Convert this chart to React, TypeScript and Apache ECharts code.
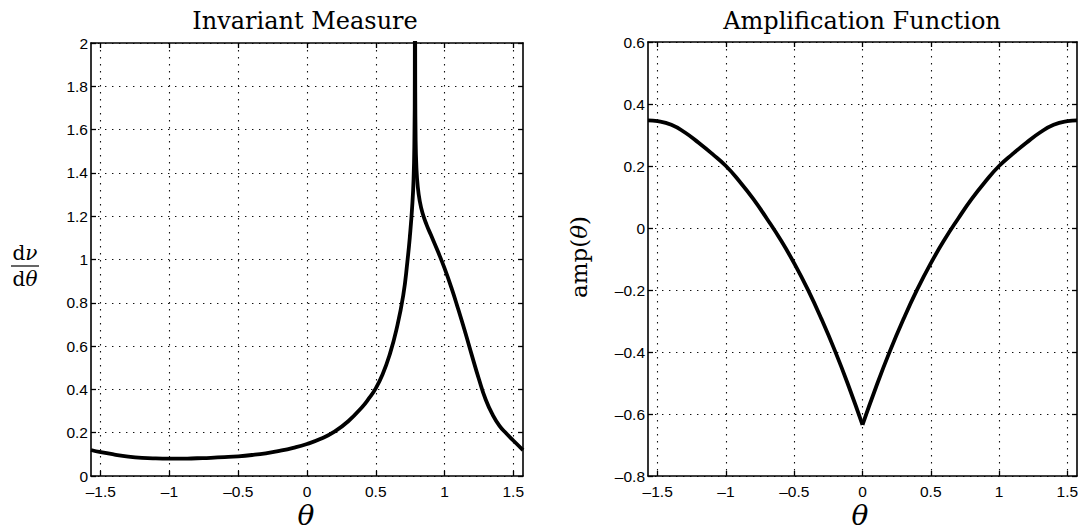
import React, { useEffect, useRef } from "react";
import * as echarts from "echarts";

// ---- data ----
const thetaMin = -1.5708;
const thetaMax = 1.5708;
const xTicks = [-1.5, -1, -0.5, 0, 0.5, 1, 1.5];

// Invariant measure, branch left of the singularity at pi/4
const measureThetaA = [-1.5708, -1.5, -1.4, -1.3, -1.2, -1.1, -1.0, -0.9, -0.8, -0.7, -0.6, -0.5, -0.4, -0.3, -0.2, -0.1, 0, 0.1, 0.2, 0.3, 0.4, 0.45, 0.5, 0.55, 0.6, 0.65, 0.7, 0.73, 0.75, 0.765, 0.775, 0.781, 0.784, 0.7854];
const measureA = [0.12, 0.11, 0.099, 0.09, 0.084, 0.081, 0.08, 0.08, 0.082, 0.084, 0.087, 0.091, 0.097, 0.105, 0.116, 0.13, 0.148, 0.172, 0.205, 0.253, 0.318, 0.358, 0.405, 0.47, 0.558, 0.675, 0.835, 0.99, 1.12, 1.245, 1.37, 1.55, 1.85, 2.6];
// branch right of the singularity
const measureThetaB = [0.7854, 0.787, 0.79, 0.796, 0.805, 0.82, 0.84, 0.87, 0.9, 0.95, 1.0, 1.05, 1.1, 1.15, 1.2, 1.25, 1.3, 1.35, 1.4, 1.45, 1.5, 1.5708];
const measureB = [2.6, 1.85, 1.55, 1.42, 1.34, 1.27, 1.215, 1.16, 1.115, 1.04, 0.96, 0.87, 0.77, 0.665, 0.555, 0.448, 0.352, 0.283, 0.232, 0.196, 0.164, 0.12];

// Amplification function
const ampThetaA = [-1.5708, -1.5, -1.4, -1.3, -1.2, -1.1, -1.0, -0.9, -0.8, -0.7, -0.6, -0.5, -0.4, -0.3, -0.2, -0.1, 0];
const ampA = [0.347, 0.3445, 0.333, 0.308, 0.275, 0.239, 0.2, 0.15, 0.094, 0.03, -0.038, -0.114, -0.199, -0.294, -0.398, -0.512, -0.635];
const ampThetaB = [0, 0.1, 0.2, 0.3, 0.4, 0.5, 0.6, 0.7, 0.8, 0.9, 1.0, 1.1, 1.2, 1.3, 1.4, 1.5, 1.5708];
const ampB = [-0.635, -0.512, -0.398, -0.294, -0.199, -0.114, -0.038, 0.03, 0.094, 0.15, 0.2, 0.239, 0.275, 0.308, 0.333, 0.3445, 0.347];

const zip = (xs: number[], ys: number[]) => xs.map((x, i) => [x, ys[i]]);
const fmt = (v: number) => String(+v.toFixed(2)).replace("-", "\u2013");

const SANS = "Liberation Sans, Arial, sans-serif";
const SERIF = "DejaVu Serif, serif";

const frameLine = { show: true, onZero: false, lineStyle: { color: "#000", width: 1.6 } };
const tickStyle = { color: "#000", width: 1.3 };
const gridDots = { show: true, lineStyle: { color: "#111", width: 1.1, type: [1.4, 5.6] as any } };

function xAxes(gridIndex: number) {
  const base = { type: "value", gridIndex, min: thetaMin, max: thetaMax, axisLine: frameLine };
  return [
    {
      ...base,
      position: "bottom",
      axisTick: { show: true, inside: true, length: 5, customValues: xTicks, lineStyle: tickStyle },
      axisLabel: { show: true, customValues: xTicks, formatter: fmt, margin: 7, color: "#000", fontSize: 15.5, fontFamily: SANS },
      splitLine: gridDots,
    },
    {
      ...base,
      position: "top",
      axisTick: { show: true, inside: true, length: 5, customValues: xTicks, lineStyle: tickStyle },
      axisLabel: { show: false },
      splitLine: { show: false },
    },
  ];
}

function yAxes(gridIndex: number, min: number, max: number) {
  const base = { type: "value", gridIndex, min, max, interval: 0.2, axisLine: frameLine };
  return [
    {
      ...base,
      position: "left",
      axisTick: { show: true, inside: true, length: 5, lineStyle: tickStyle },
      axisLabel: { show: true, formatter: fmt, margin: 3, color: "#000", fontSize: 15.5, fontFamily: SANS },
      splitLine: gridDots,
    },
    {
      ...base,
      position: "right",
      axisTick: { show: true, inside: true, length: 5, lineStyle: tickStyle },
      axisLabel: { show: false },
      splitLine: { show: false },
    },
  ];
}

const lineSeries = (data: number[][], xi: number, yi: number) => ({
  type: "line",
  data,
  xAxisIndex: xi,
  yAxisIndex: yi,
  showSymbol: false,
  symbol: "none",
  smooth: 0.5,
  clip: true,
  lineStyle: { color: "#000", width: 3.8 },
  silent: true,
});

export default function App() {
  const ref = useRef<HTMLDivElement>(null);
  useEffect(() => {
    if (!ref.current) return;
    const chart = echarts.init(ref.current, undefined, { renderer: "svg" });
    chart.setOption({
      animation: false,
      backgroundColor: "#fff",
      grid: [
        { left: 91, top: 43, width: 432, height: 433 },
        { left: 648, top: 42, width: 429, height: 434 },
      ],
      xAxis: [...xAxes(0), ...xAxes(1)],
      yAxis: [...yAxes(0, 0, 2), ...yAxes(1, -0.8, 0.6)],
      series: [
        lineSeries(zip(measureThetaA, measureA), 0, 0),
        lineSeries(zip(measureThetaB, measureB), 0, 0),
        lineSeries(zip(ampThetaA, ampA), 2, 2),
        lineSeries(zip(ampThetaB, ampB), 2, 2),
      ],
      graphic: [
        { type: "text", x: 305, y: 21, style: { text: "Invariant Measure", font: `24px ${SERIF}`, fill: "#000", textAlign: "center", textVerticalAlign: "middle" } },
        { type: "text", x: 862, y: 21, style: { text: "Amplification Function", font: `24px ${SERIF}`, fill: "#000", textAlign: "center", textVerticalAlign: "middle" } },
        { type: "text", x: 306, y: 515, style: { text: "\u03b8", font: `italic 28px ${SERIF}`, fill: "#000", textAlign: "center", textVerticalAlign: "middle" } },
        { type: "text", x: 860, y: 515, style: { text: "\u03b8", font: `italic 28px ${SERIF}`, fill: "#000", textAlign: "center", textVerticalAlign: "middle" } },
        {
          type: "text", x: 25, y: 253,
          style: {
            text: "{u|d}{i|\u03bd}", textAlign: "center", textVerticalAlign: "middle", fill: "#000",
            rich: { u: { font: `20px ${SERIF}`, fill: "#000" }, i: { font: `italic 20px ${SERIF}`, fill: "#000" } },
          },
        },
        { type: "line", shape: { x1: 11, y1: 266, x2: 39, y2: 266 }, style: { stroke: "#000", lineWidth: 1.2 } },
        {
          type: "text", x: 25, y: 279,
          style: {
            text: "{u|d}{i|\u03b8}", textAlign: "center", textVerticalAlign: "middle", fill: "#000",
            rich: { u: { font: `20px ${SERIF}`, fill: "#000" }, i: { font: `italic 20px ${SERIF}`, fill: "#000" } },
          },
        },
        {
          type: "text", x: 579, y: 257, rotation: Math.PI / 2,
          style: {
            text: "{u|amp(}{i|\u03b8}{u|)}", textAlign: "center", textVerticalAlign: "middle", fill: "#000",
            rich: { u: { font: `23px ${SERIF}`, fill: "#000" }, i: { font: `italic 23px ${SERIF}`, fill: "#000" } },
          },
        },
      ],
    });
    return () => chart.dispose();
  }, []);
  return <div ref={ref} style={{ position: "absolute", left: 0, top: 0, width: 1085, height: 530 }} />;
}
